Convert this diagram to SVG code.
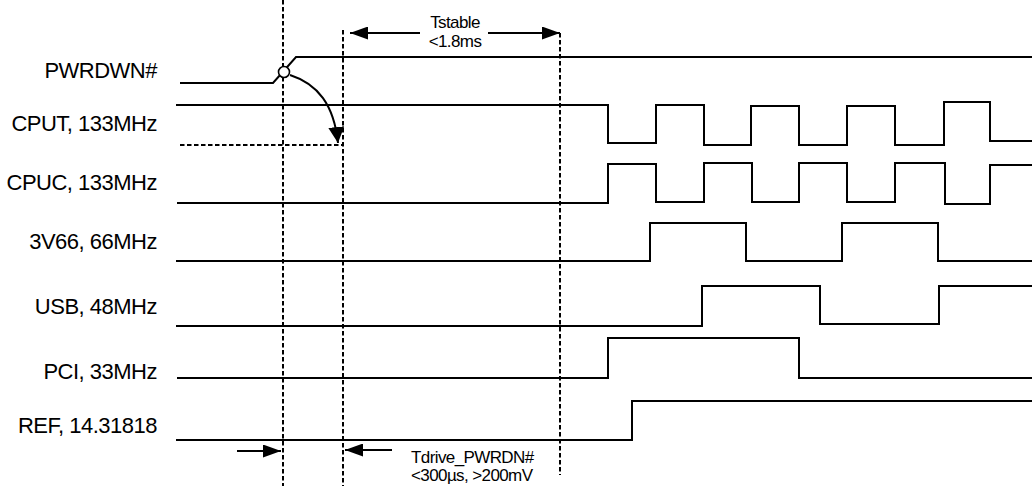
<svg xmlns="http://www.w3.org/2000/svg" width="1032" height="486" viewBox="0 0 1032 486">
<style>
  .sig { fill: none; stroke: #000; stroke-width: 2; stroke-linejoin: miter; }
  .dash { fill: none; stroke: #000; stroke-width: 2; stroke-dasharray: 4.5 2.5; }
  .lbl { font-family: "Liberation Sans", Arial, sans-serif; font-size: 22px; letter-spacing: -0.5px; text-anchor: end; fill: #000; }
  .ann { font-family: "Liberation Sans", Arial, sans-serif; font-size: 17px; letter-spacing: -0.6px; fill: #000; }
  .arr { fill: none; stroke: #000; stroke-width: 2; }
</style>
<defs>
  <marker id="ah" markerUnits="userSpaceOnUse" markerWidth="18" markerHeight="13" refX="18" refY="6.5" orient="auto" viewBox="0 0 18 13">
    <path d="M0,0 L18,6.5 L0,13 z" fill="#000"/>
  </marker>
  <marker id="ahc" markerUnits="userSpaceOnUse" markerWidth="16" markerHeight="16" refX="16" refY="8" orient="auto" viewBox="0 0 16 16">
    <path d="M0,0 L16,8 L0,16 z" fill="#000"/>
  </marker>
</defs>

<g id="guides">
  <line class="dash" x1="283" y1="0" x2="283" y2="486"/>
  <line class="dash" x1="343" y1="30" x2="343" y2="486"/>
  <line class="dash" x1="560" y1="33" x2="560" y2="475"/>
  <line class="dash" x1="180" y1="145" x2="343" y2="145"/>
</g>

<g id="pwrdwn">
  <text class="lbl" x="157" y="78">PWRDWN#</text>
  <path class="sig" d="M180,83 H273 L296,57 H1032"/>
  <circle cx="284" cy="72" r="5.5" fill="#fff" stroke="#000" stroke-width="1.6"/>
</g>

<g id="cput">
  <text class="lbl" x="157" y="131">CPUT, 133MHz</text>
  <path class="sig" d="M176,105 H608 V143 H656 V105 H704 V145 H751 V106 H799 V145 H847 V106 H895 V145 H944 V102 H990 V141 H1032"/>
</g>

<g id="cpuc">
  <text class="lbl" x="157" y="190">CPUC, 133MHz</text>
  <path class="sig" d="M177,203 H608 V164 H656 V202 H704 V163 H752 V202 H799 V163 H847 V202 H895 V163 H945 V204 H990 V165 H1032"/>
</g>

<g id="v3v66">
  <text class="lbl" x="157" y="249">3V66, 66MHz</text>
  <path class="sig" d="M176,261 H650 V223 H746 V261 H842 V223 H938 V261 H1032"/>
</g>

<g id="usb">
  <text class="lbl" x="157" y="314">USB, 48MHz</text>
  <path class="sig" d="M176,326 H702 V286 H820 V324 H939 V286 H1032"/>
</g>

<g id="pci">
  <text class="lbl" x="157" y="379">PCI, 33MHz</text>
  <path class="sig" d="M177,378 H608 V338 H799 V378 H1032"/>
</g>

<g id="ref">
  <text class="lbl" x="157" y="433">REF, 14.31818</text>
  <path class="sig" d="M176,440 H632 V401 H1032"/>
</g>

<g id="connectors">
  <path class="arr" d="M290,75 C318,84 334,105 338,143" marker-end="url(#ahc)"/>
  <line class="arr" x1="420" y1="33" x2="350" y2="33" marker-end="url(#ah)"/>
  <line class="arr" x1="488" y1="33" x2="560" y2="33" marker-end="url(#ah)"/>
  <line class="arr" x1="237" y1="451" x2="281" y2="451" marker-end="url(#ah)"/>
  <line class="arr" x1="392" y1="450" x2="345" y2="450" marker-end="url(#ah)"/>
</g>

<g id="tstable">
  <text class="ann" x="455" y="28" text-anchor="middle">Tstable</text>
  <text class="ann" x="455" y="47" text-anchor="middle">&lt;1.8ms</text>
</g>

<g id="tdrive">
  <text class="ann" x="411" y="463">Tdrive_PWRDN#</text>
  <text class="ann" x="411" y="481">&lt;300µs, &gt;200mV</text>
</g>
</svg>
